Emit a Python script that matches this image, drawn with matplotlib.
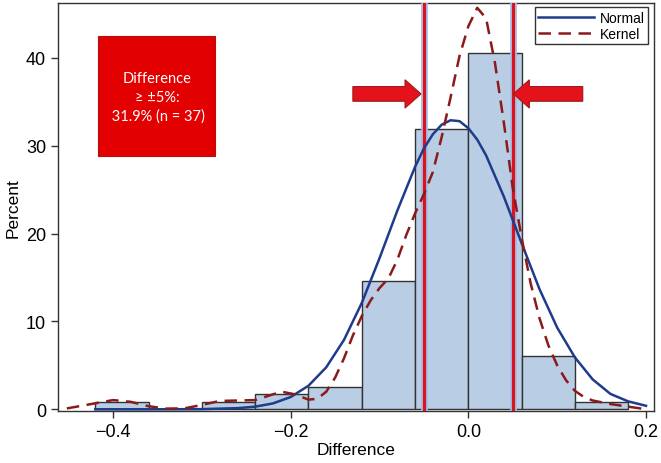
import numpy as np
import matplotlib.pyplot as plt
from matplotlib.patches import FancyArrow, Rectangle

# histogram (percent of n = 116), bin width 0.06
bin_left = [-0.42, -0.36, -0.30, -0.24, -0.18, -0.12, -0.06, 0.00, 0.06, 0.12]
pct = [0.86, 0.0, 0.86, 1.72, 2.59, 14.66, 31.90, 40.52, 6.03, 0.86]
bin_w = 0.06

# normal fit curve
norm_x = [-0.42, -0.36, -0.30, -0.26, -0.24, -0.22, -0.20, -0.18, -0.16, -0.14,
          -0.12, -0.10, -0.08, -0.06, -0.05, -0.04, -0.03, -0.02, -0.01, 0.00,
          0.01, 0.02, 0.04, 0.06, 0.08, 0.10, 0.12, 0.14, 0.16, 0.18, 0.20]
norm_y = [0.0, 0.0, 0.02, 0.13, 0.30, 0.67, 1.40, 2.68, 4.78, 7.90,
          12.1, 17.2, 22.6, 27.6, 29.7, 31.3, 32.4, 32.9, 32.8, 32.0,
          30.7, 28.9, 24.2, 18.9, 13.7, 9.3, 5.9, 3.4, 1.75, 0.9, 0.4]

# kernel density curve
kern_x = [-0.452, -0.43, -0.40, -0.38, -0.36, -0.34, -0.32, -0.30, -0.28, -0.26,
          -0.24, -0.22, -0.21, -0.195, -0.18, -0.17, -0.16, -0.15, -0.14, -0.13,
          -0.12, -0.11, -0.10, -0.09, -0.08, -0.07, -0.06, -0.05, -0.04, -0.03,
          -0.02, -0.01, 0.00, 0.01, 0.02, 0.03, 0.04, 0.05, 0.06, 0.07,
          0.08, 0.09, 0.10, 0.11, 0.12, 0.13, 0.14, 0.16, 0.18, 0.197]
kern_y = [0.1, 0.5, 1.05, 0.85, 0.35, 0.08, 0.1, 0.5, 0.95, 1.0,
          1.05, 1.7, 2.0, 1.7, 1.1, 1.2, 2.0, 3.6, 5.8, 8.4,
          10.6, 12.4, 13.8, 14.9, 17.0, 19.8, 22.3, 24.5, 27.0, 31.0,
          35.5, 40.2, 43.6, 45.7, 44.5, 39.4, 32.6, 25.2, 19.5, 14.4,
          10.4, 7.3, 5.0, 3.3, 2.1, 1.4, 1.0, 0.6, 0.3, 0.05]

cut = [-0.05, 0.05]

plt.rcParams['font.family'] = ['Liberation Sans', 'DejaVu Sans']

fig = plt.figure(figsize=(6.61, 4.64), dpi=100)
ax = fig.add_axes([0.0877, 0.111, 0.9017, 0.8804])

ax.bar(bin_left, pct, width=bin_w, align='edge', color='#b9cde5',
       edgecolor='#333333', linewidth=1.0, zorder=2)

for c in cut:
    ax.axvline(c, color='#a7bde6', lw=5, alpha=0.9, zorder=3)
    ax.axvline(c, color='#d9141c', lw=2.3, zorder=3)

ax.plot(norm_x, norm_y, color='#1f3b8c', lw=1.8, label='Normal', zorder=4)
ax.plot(kern_x, kern_y, color='#8b1a1a', lw=1.8, ls=(0, (5, 3)),
        label='Kernel', zorder=4)

# arrows pointing to the cut lines
for x0, dx in [(-0.130, 0.0767), (0.1288, -0.0781)]:
    ax.add_patch(FancyArrow(x0, 35.9, dx, 0, width=1.67, head_width=3.22,
                            head_length=0.018, length_includes_head=True,
                            facecolor='#e3121b', edgecolor='#9e1b1b',
                            lw=0.8, zorder=5))

# red annotation box
ax.add_patch(Rectangle((0.068, 0.625), 0.195, 0.295, transform=ax.transAxes,
                       facecolor='#e30000', edgecolor='#b01010', lw=0.8,
                       zorder=5))
ax.text(0.166, 0.77, 'Difference\n\u2265 \u00b15%:\n 31.9% (n = 37)',
        transform=ax.transAxes, ha='center', va='center', color='white',
        fontsize=10.5, family=['Lato', 'DejaVu Sans'], linespacing=1.45,
        multialignment='center', zorder=6)

ax.set_xlim(-0.462, 0.209)
ax.set_ylim(-0.25, 46.25)
ax.set_xticks([-0.4, -0.2, 0.0, 0.2])
ax.set_xticklabels(['\u22120.4', '\u22120.2', '0.0', '0.2'])
ax.set_yticks([0, 10, 20, 30, 40])
ax.tick_params(labelsize=13, length=5, width=1, color='#333333')
ax.set_xlabel('Difference', fontsize=12.5, labelpad=1)
ax.set_ylabel('Percent', fontsize=12.5, labelpad=4)
for s in ax.spines.values():
    s.set_color('#333333')
    s.set_linewidth(1)

leg = ax.legend(loc='upper right', fontsize=10, frameon=True, fancybox=False,
                edgecolor='black', handlelength=4.0, borderpad=0.25,
                labelspacing=0.15, handletextpad=0.4, borderaxespad=0,
                bbox_to_anchor=(0.99, 0.99))
leg.get_frame().set_linewidth(1)

fig.savefig('out.png', dpi=100)
